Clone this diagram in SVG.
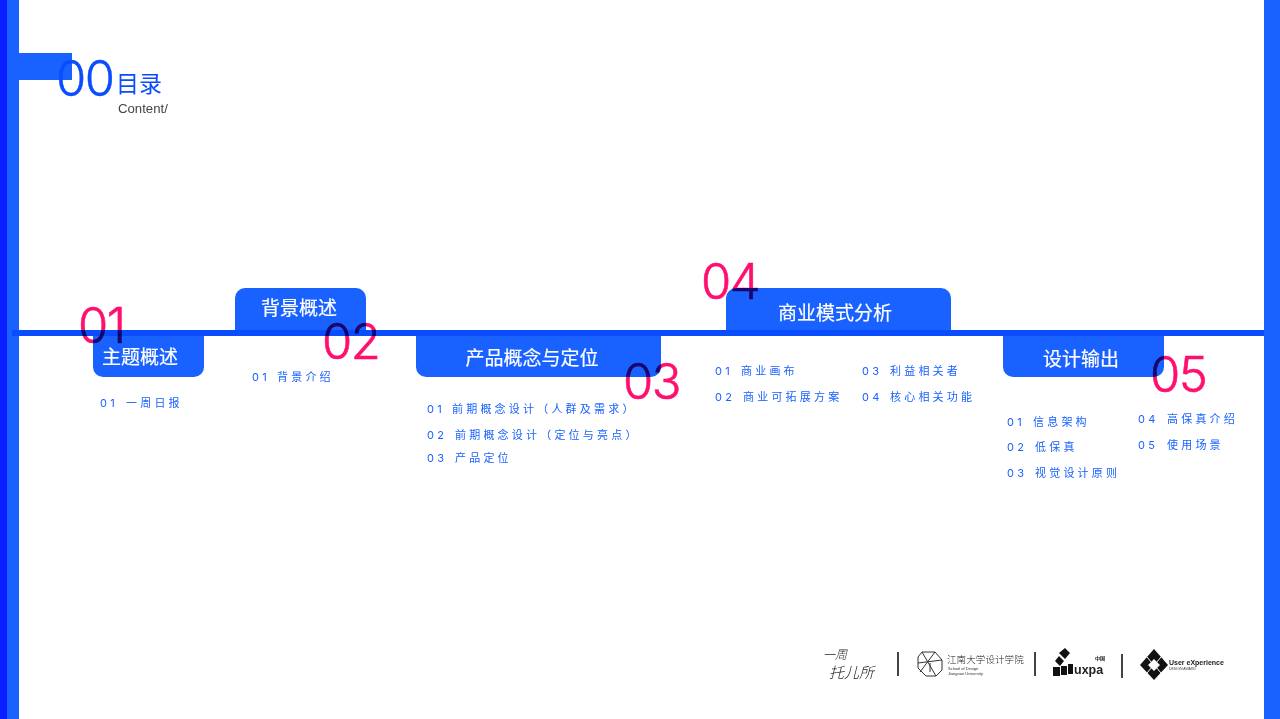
<svg xmlns="http://www.w3.org/2000/svg" width="1280" height="719" viewBox="0 0 1280 719">
<style>
text{font-family:"Noto Sans CJK SC","Liberation Sans",sans-serif}
.box{fill:#1a62ff}
.t{font-size:19px;fill:#fff;text-anchor:middle;font-weight:400;stroke:#fff;stroke-width:.2px}
.i{font-size:11px;fill:#1a62ff;letter-spacing:3.2px;font-family:Inter,"Noto Sans CJK SC",sans-serif}
.n{font-family:Inter,"Liberation Sans",sans-serif;font-weight:300;font-size:49px;letter-spacing:-1.5px;fill:#ff0f6e;stroke:#ff0f6e;stroke-width:.6px;mix-blend-mode:multiply}
.k{fill:#222}
.s{fill:#333}
</style>
<rect width="1280" height="719" fill="#fff"/>
<g id="frame">
<rect x="0" y="0" width="7" height="719" fill="#0a1fff"/>
<rect x="7" y="0" width="12" height="719" fill="#1a62ff"/>
<rect x="1264" y="0" width="16" height="719" fill="#1a62ff"/>
</g>
<g id="heading">
<rect x="19" y="53" width="53" height="27" fill="#1a62ff"/>
<text x="56" y="96" style="font-family:Inter,'Liberation Sans',sans-serif;font-weight:300;font-size:49px;letter-spacing:-1.5px;fill:#0a4dff;stroke:#0a4dff;stroke-width:.4px">00</text>
<text x="116" y="92" style="font-size:23px;fill:#0a4dff">目录</text>
<text x="118" y="113" style="font-family:'Liberation Sans',sans-serif;font-size:13.2px;fill:#444">Content/</text>
</g>
<g id="connectors">
<rect x="12" y="330" width="1252" height="6" fill="#0a4dff"/>
</g>
<g id="node1">
<path class="box" d="M93 336H204V367a10 10 0 0 1-10 10H103a10 10 0 0 1-10-10Z"/>
<text class="t" x="140" y="364">主题概述</text>
<text class="i" x="100" y="407">01<tspan x="126">一周日报</tspan></text>
<text class="n" x="78" y="343">01</text>
</g>
<g id="node2">
<path class="box" d="M235 330V298a10 10 0 0 1 10-10H356a10 10 0 0 1 10 10V330Z"/>
<text class="t" x="299" y="315">背景概述</text>
<text class="i" x="252" y="381">01<tspan x="277">背景介绍</tspan></text>
<text class="n" x="322" y="359">02</text>
</g>
<g id="node3">
<path class="box" d="M416 336H661V367a10 10 0 0 1-10 10H426a10 10 0 0 1-10-10Z"/>
<text class="t" x="532" y="365">产品概念与定位</text>
<text class="i" x="427" y="413">01<tspan x="452">前期概念设计（人群及需求）</tspan></text>
<text class="i" x="427" y="439">02<tspan x="455">前期概念设计（定位与亮点）</tspan></text>
<text class="i" x="427" y="462">03<tspan x="455">产品定位</tspan></text>
<text class="n" x="623" y="399">03</text>
</g>
<g id="node4">
<path class="box" d="M726 330V298a10 10 0 0 1 10-10H941a10 10 0 0 1 10 10V330Z"/>
<text class="t" x="835" y="320">商业模式分析</text>
<text class="i" x="715" y="375">01<tspan x="741">商业画布</tspan></text>
<text class="i" x="715" y="401">02<tspan x="743">商业可拓展方案</tspan></text>
<text class="i" x="862" y="375">03<tspan x="890">利益相关者</tspan></text>
<text class="i" x="862" y="401">04<tspan x="890">核心相关功能</tspan></text>
<text class="n" x="701" y="299">04</text>
</g>
<g id="node5">
<path class="box" d="M1003 336H1164V367a10 10 0 0 1-10 10H1013a10 10 0 0 1-10-10Z"/>
<text class="t" x="1081" y="366">设计输出</text>
<text class="i" x="1007" y="426">01<tspan x="1033">信息架构</tspan></text>
<text class="i" x="1007" y="451">02<tspan x="1035">低保真</tspan></text>
<text class="i" x="1007" y="477">03<tspan x="1035">视觉设计原则</tspan></text>
<text class="i" x="1138" y="423">04<tspan x="1167">高保真介绍</tspan></text>
<text class="i" x="1138" y="449">05<tspan x="1167">使用场景</tspan></text>
<text class="n" x="1150" y="392">05</text>
</g>
<g id="logos">
<text class="k" x="823" y="659" style="font-size:12px;font-weight:300;font-style:italic">一周</text>
<text class="k" x="829" y="678" style="font-size:15px;font-weight:300;font-style:italic">托儿所</text>
<rect x="897" y="652" width="2" height="24" fill="#444"/>
<g fill="none" stroke="#333" stroke-width="1">
<path d="M922 652h13l7 8v10l-6 6h-10l-8-8v-11Z"/>
<path d="M922 652l14 24M935 652l-15 20M918 663l24-3M930 663v9"/>
</g>
<text class="k" x="947" y="663" style="font-size:9.5px;font-weight:300;letter-spacing:.1px">江南大学设计学院</text>
<text class="s" x="948" y="670" style="font-family:'Liberation Sans',sans-serif;font-size:4px">School of Design</text>
<text class="s" x="948" y="675" style="font-family:'Liberation Sans',sans-serif;font-size:4px">Jiangnan University</text>
<rect x="1034" y="652" width="2" height="24" fill="#444"/>
<g fill="#111">
<path d="M1065 648l5 5-5 6-6-6ZM1059 656l5 5-4 5-5-5ZM1053 667h7v9h-7ZM1061 666h6v9h-6ZM1068 664h5v10h-5Z"/>
</g>
<text x="1074" y="674" style="font-family:'Liberation Sans',sans-serif;font-weight:700;font-size:12.5px;fill:#222">uxpa</text>
<text x="1095" y="660" style="font-size:5px;fill:#222;font-weight:700">中国</text>
<rect x="1121" y="654" width="2" height="24" fill="#444"/>
<path fill="#111" fill-rule="evenodd" d="M1154 649L1168 665L1154 680L1140 665ZM1154 659L1148 665L1154 671L1160 665Z"/>
<path stroke="#fff" stroke-width="1" d="M1147 657l5 6M1161 657l-5 6M1147 673l5-6M1161 673l-5-6"/>
<text x="1169" y="665" style="font-family:'Liberation Sans',sans-serif;font-weight:700;font-size:7px;fill:#222">User eXperience</text>
<text x="1169" y="670" style="font-family:'Liberation Sans',sans-serif;font-size:3.5px;fill:#444">DESIGN AWARD</text>
</g>
</svg>
